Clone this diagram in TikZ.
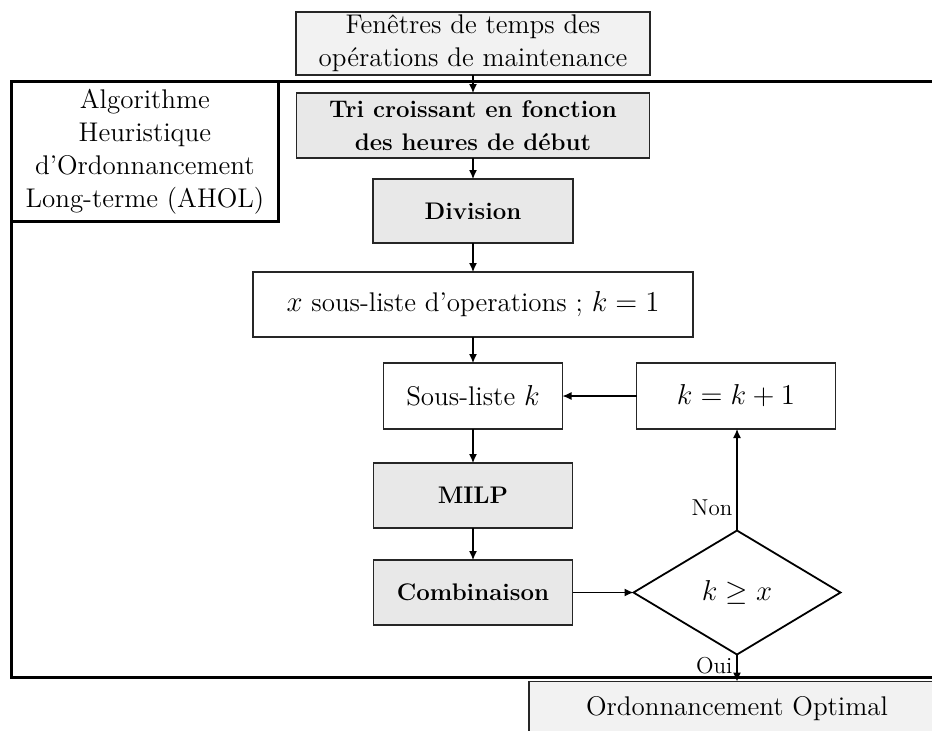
\documentclass[tikz,border=0pt]{standalone}
\usepackage{fontspec}
\usepackage{amsmath,amssymb}
\usepackage{xcolor}
\usetikzlibrary{arrows.meta,positioning,shapes.geometric}
\definecolor{fondclair}{HTML}{F2F2F2}
\definecolor{fondgris}{HTML}{E8E8E8}
\definecolor{traitgris}{HTML}{262626}

\begin{document}
\begin{tikzpicture}[
    x=0.5pt, y=-0.5pt,
    >={Latex[length=4.5pt,width=4pt]},
    font=\fontsize{13.5}{16.5}\selectfont,
    boite/.style={rectangle, draw=traitgris, line width=0.9pt, inner sep=1pt, outer sep=0pt, align=center, minimum height=32.5pt},
    boitegrise/.style={boite, fill=fondgris, font=\fontsize{12}{16.5}\selectfont\bfseries},
    boiteclaire/.style={boite, fill=fondclair},
    cadre/.style={rectangle, draw=black, line width=1.4pt, inner sep=0pt},
    decision/.style={diamond, draw=black, line width=0.9pt, outer sep=0pt, minimum width=103.5pt, minimum height=62pt, inner sep=0pt, font=\fontsize{15}{18}\selectfont},
    etiquette/.style={font=\fontsize{11.5}{13}\selectfont, inner sep=2pt},
    fleche/.style={->, line width=0.6pt},
    ]
    \useasboundingbox (0,0) rectangle (932,730);
    \clip (0,0) rectangle (932,730);

    %Cadre
    \node[cadre, minimum width=475pt, minimum height=298pt, anchor=north west] (cadre) at (10,80) {};
    \node[cadre, minimum width=133.5pt, minimum height=70pt, anchor=north west, align=center] (algo) at (cadre.north west) {Algorithme\\Heuristique\\d’Ordonnancement\\Long-terme (AHOL)};

    %Nodes
    \node[boiteclaire, minimum width=177pt, minimum height=31.5pt] (fenetres) at (473,43.5) {Fenêtres de temps des\\opérations de maintenance};
    \node[boitegrise, minimum width=176.5pt]                   (tri)            [below=9pt of fenetres]    {Tri croissant en fonction\\des heures de début};
    \node[boitegrise, minimum width=100pt, minimum height=32pt] (division)      [below=10.5pt of tri]      {Division};
    \node[boite, minimum width=220pt]                          (souslistes)     [below=14.5pt of division] {$x$ sous-liste d’operations ; $k=1$};
    \node[boite, minimum width=89.5pt, minimum height=33pt]    (sousliste)      [below=13pt of souslistes] {Sous-liste $k$};
    \node[boitegrise, minimum width=99.5pt]                    (milp)           [below=17pt of sousliste]  {MILP};
    \node[boitegrise, minimum width=99.5pt]                    (combinaison)    [below=16pt of milp]       {Combinaison};
    \node[decision]                                            (test)           [right=30.5pt of combinaison] {$k \geq x$};
    \node[boite, minimum width=99.5pt, minimum height=33pt, font=\fontsize{14.5}{17}\selectfont] (increment) [right=37pt of sousliste] {$k=k+1$};
    \node[boiteclaire, minimum width=208pt, minimum height=27pt] (ordonnancement) [below=13.5pt of test]   {Ordonnancement Optimal};

    %Lines
    \draw[fleche] (fenetres)    -- (tri);
    \draw[fleche] (tri)         -- (division);
    \draw[fleche] (division)    -- (souslistes);
    \draw[fleche] (souslistes)  -- (sousliste);
    \draw[fleche] (sousliste)   -- (milp);
    \draw[fleche] (milp)        -- (combinaison);
    \draw[fleche] (combinaison) -- (test);
    \draw[fleche] (test.north)  -- node[etiquette, pos=0.22, left] {Non} (test.north |- increment.south);
    \draw[fleche] (increment)   -- (sousliste);
    \draw[fleche] (test)        -- node[etiquette, pos=0.4, left] {Oui} (ordonnancement);
\end{tikzpicture}
\end{document}
